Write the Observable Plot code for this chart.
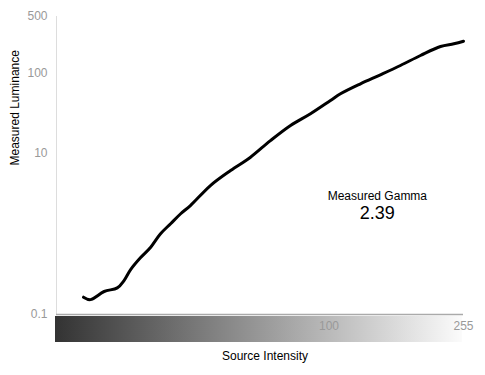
<!DOCTYPE html>
<html>
<head>
<meta charset="utf-8">
<script src="https://cdn.jsdelivr.net/npm/d3@7"></script>
<script src="https://cdn.jsdelivr.net/npm/@observablehq/plot@0.6"></script>
<style>
  body { margin: 0; background: white; }
  #chart svg { display: block; }
</style>
</head>
<body>
<div id="chart"></div>
<script>
// Source intensity (x) and measured luminance (y)
const intensity = [18.1, 19.0, 20.9, 22.9, 24.0, 25.1, 26.9, 28.9, 30.9, 33.2, 35.6, 38.1, 43.8, 50.4, 57.9, 66.5, 76.5, 87.9, 101, 108.3, 124.5, 143, 164.4, 189, 217.3, 238.4, 255];
const luminance = [0.164, 0.153, 0.193, 0.214, 0.264, 0.359, 0.506, 0.684, 1.00, 1.34, 1.78, 2.25, 3.99, 6.13, 8.97, 14.4, 22.2, 31.0, 45.3, 54.9, 73.1, 94.5, 123.3, 164.1, 212.2, 229.2, 246.9];

const xDomain = [15, 255];
const yDomain = [0.1, 500];
const xTicks = [100, 255];
const yTicks = [0.1, 10, 100, 500];

const xLabel = "Source Intensity";
const yLabel = "Measured Luminance";
const gammaTitle = "Measured Gamma";
const gammaValue = "2.39";
const gammaAt = [140]; // intensity where annotation sits
const gammaTitleLum = [2.92];
const gammaValueLum = [1.79];

const data = intensity.map((x, i) => ({x, y: luminance[i]}));

const plot = Plot.plot({
  width: 485,
  height: 375,
  marginLeft: 56,
  marginRight: 22,
  marginTop: 16,
  marginBottom: 61,
  style: {fontFamily: "'Liberation Sans', Arial, Helvetica, sans-serif", fontSize: "12px", background: "white", color: "black"},
  x: {type: "log", domain: xDomain},
  y: {type: "log", domain: yDomain, axis: null},
  marks: [
    Plot.ruleX([xDomain[0]], {stroke: "#ddd", strokeWidth: 1}),
    Plot.ruleY([yDomain[0]], {stroke: "#aaa", strokeWidth: 1.5}),
    Plot.text(yTicks, {y: d => d, text: d => String(d), frameAnchor: "left", textAnchor: "end", dx: -9, fill: "#999", fontSize: 12}),
    Plot.axisX({ticks: xTicks, tickFormat: d => String(d), tickSize: 0, tickPadding: 7, label: null, fill: "#999", fontSize: 12}),
    Plot.line(data, {x: "x", y: "y", stroke: "black", strokeWidth: 3, strokeLinejoin: "round", strokeLinecap: "round", curve: "catmull-rom"}),
    Plot.text([xLabel], {frameAnchor: "bottom", dy: 45, dx: 5, fill: "black", fontSize: 12}),
    Plot.text([yLabel], {frameAnchor: "left", rotate: -90, dx: -41, fill: "black", fontSize: 12}),
    Plot.text(gammaAt, {x: d => d, y: (d, i) => gammaTitleLum[i], text: () => gammaTitle, fill: "black", fontSize: 12}),
    Plot.text(gammaAt, {x: d => d, y: (d, i) => gammaValueLum[i], text: () => gammaValue, fill: "black", fontSize: 18})
  ]
});

// Gradient bar under the x axis, positioned from the x scale
const svg = d3.select(plot);
const xs = plot.scale("x");
const x0 = xs.apply(xDomain[0]) - 1;
const x1 = xs.apply(xDomain[1]) - 1;
const defs = svg.insert("defs", ":first-child");
const grad = defs.append("linearGradient").attr("id", "intensityGrad").attr("x1", "0%").attr("x2", "100%");
grad.append("stop").attr("offset", "0%").attr("stop-color", "#333");
grad.append("stop").attr("offset", "100%").attr("stop-color", "#fbfbfb");
svg.insert("rect", "defs + *")
  .attr("x", x0).attr("width", x1 - x0)
  .attr("y", 316).attr("height", 26)
  .attr("fill", "url(#intensityGrad)");

document.getElementById("chart").appendChild(plot);
</script>
</body>
</html>
